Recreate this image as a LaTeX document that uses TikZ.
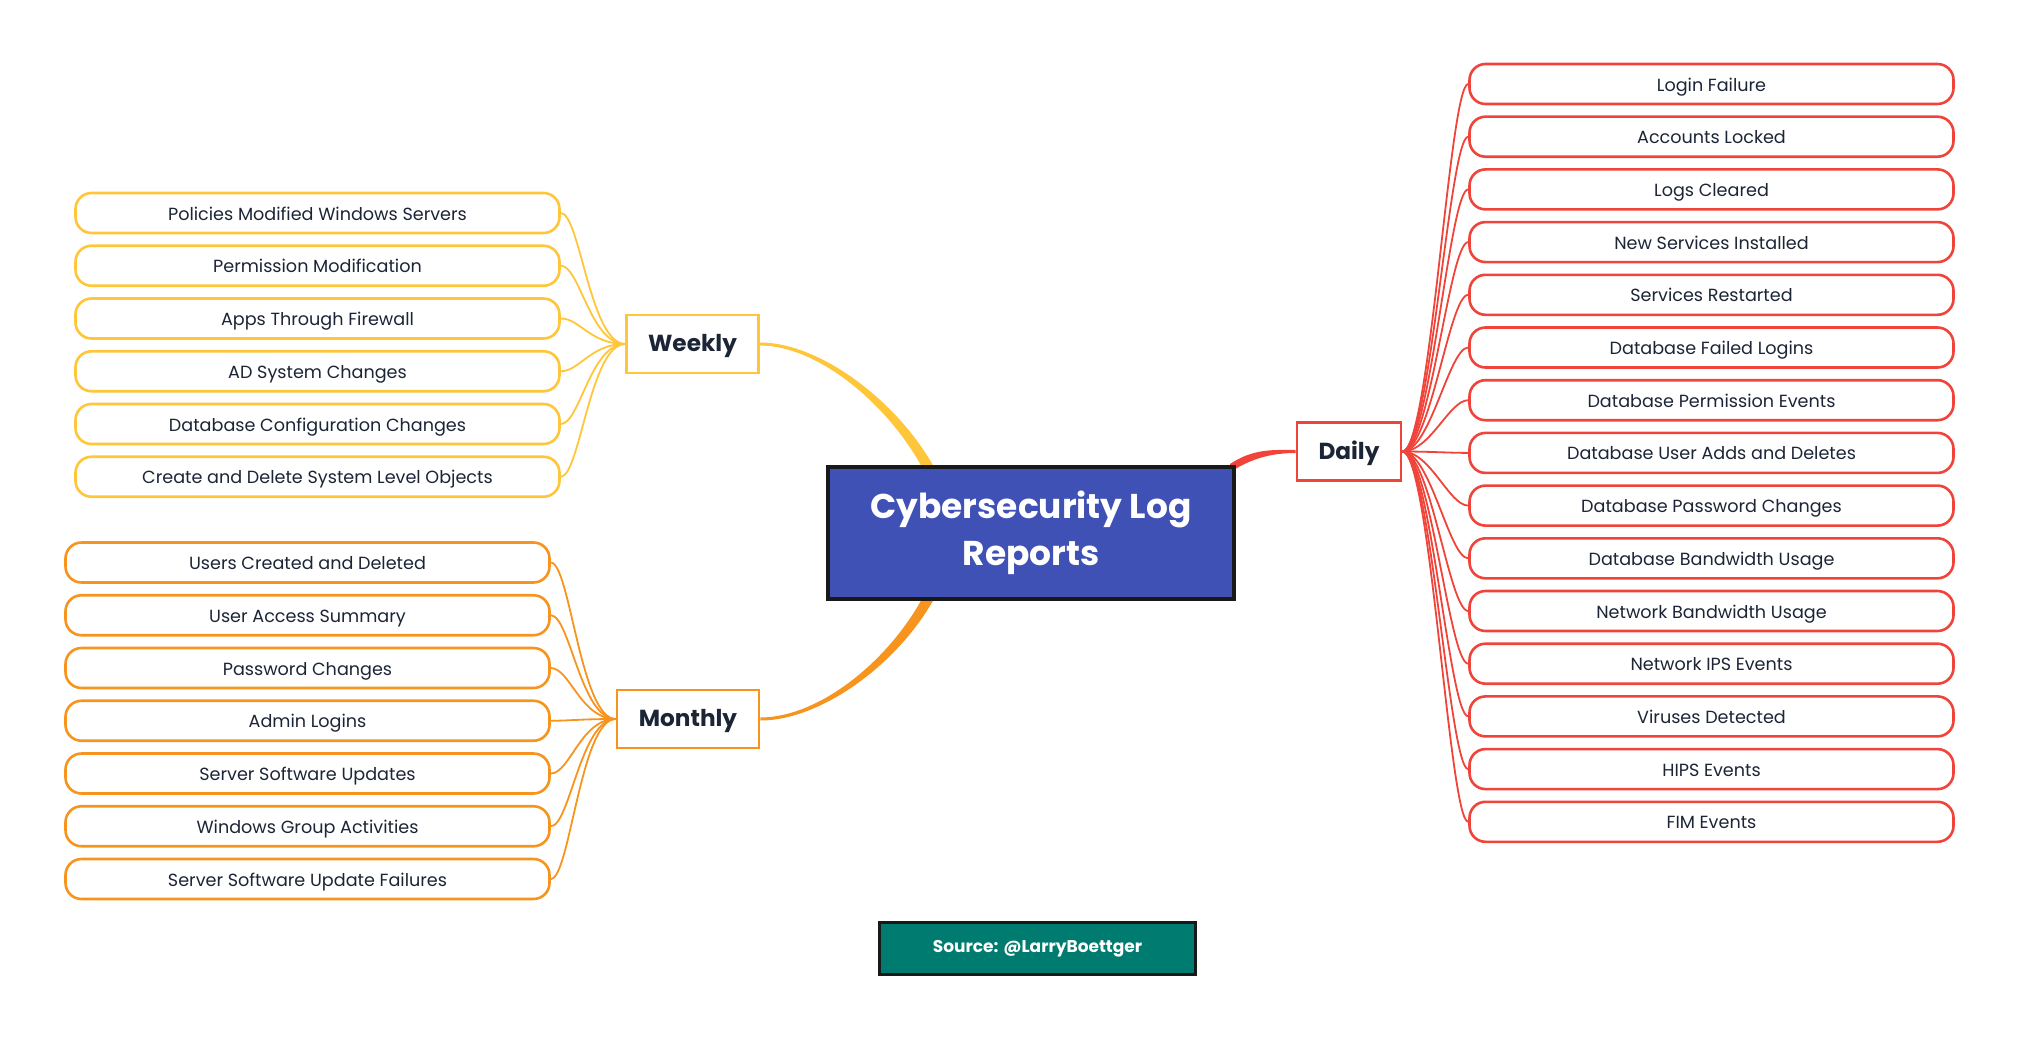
\documentclass[tikz,border=0pt]{standalone}
\usepackage{fontspec}
\setmainfont{Poppins}
\usetikzlibrary{calc,backgrounds}
\definecolor{wk}{HTML}{FFC63A}
\definecolor{mo}{HTML}{F7941E}
\definecolor{dy}{HTML}{F0443A}
\definecolor{txt}{HTML}{1C2536}
\definecolor{central}{HTML}{3F51B5}
\definecolor{src}{HTML}{007B6F}
\begin{document}
\begin{tikzpicture}[x=0.5pt,y=-0.5pt,
  pill/.style={draw, line width=1.3pt, rounded corners=8pt, minimum width=242pt, minimum height=20pt, inner sep=0pt, text height=7.4pt, text depth=0.4pt, font=\fontsize{8.8}{10}\selectfont, text=txt, fill=white},
  branch/.style={draw, line width=1.3pt, minimum height=29pt, inner sep=0pt, text height=9.2pt, text depth=1.6pt, font=\fontsize{11.6}{14}\selectfont\bfseries, text=txt, fill=white},
  conn/.style={line width=0.9pt}]
\useasboundingbox (0,0) rectangle (2017,1038);

% central
\node[draw=black!90, line width=2pt, fill=central, minimum width=203pt, minimum height=66pt, inner sep=0pt, align=center, text=white, font=\fontsize{17.2}{23.5}\selectfont\bfseries] (central) at (1031,533) {Cybersecurity Log\\Reports};

% branches
\node[branch, draw=wk, minimum width=66pt] (weekly) at (692.5,344) {Weekly};
\node[branch, draw=mo, minimum width=71pt] (monthly) at (688,719) {Monthly};
\node[branch, draw=dy, minimum width=52pt] (daily) at (1349,451.5) {Daily};

% source
\node[draw=black!90, line width=1.5pt, fill=src, minimum width=158pt, minimum height=26pt, inner sep=0pt, text height=6.2pt, text depth=1.8pt, text=white, font=\fontsize{8.5}{10}\selectfont\bfseries] (source) at (1037.5,948.5) {Source: @LarryBoettger};

% weekly items
\foreach \t [count=\i from 0] in {Policies Modified Windows Servers, Permission Modification, Apps Through Firewall, AD System Changes, Database Configuration Changes, Create and Delete System Level Objects}
  \node[pill, draw=wk] (w\i) at (317.5,{213+52.75*\i}) {\t};

% monthly items
\foreach \t [count=\i from 0] in {Users Created and Deleted, User Access Summary, Password Changes, Admin Logins, Server Software Updates, Windows Group Activities, Server Software Update Failures}
  \node[pill, draw=mo] (m\i) at (307.5,{562.5+52.75*\i}) {\t};

% daily items
\foreach \t [count=\i from 0] in {Login Failure, Accounts Locked, Logs Cleared, New Services Installed, Services Restarted, Database Failed Logins, Database Permission Events, Database User Adds and Deletes, Database Password Changes, Database Bandwidth Usage, Network Bandwidth Usage, Network IPS Events, Viruses Detected, HIPS Events, FIM Events}
  \node[pill, draw=dy] (d\i) at (1711.5,{84+52.7*\i}) {\t};

\begin{pgfonlayer}{background}
  % main tapered branches
  \fill[wk] ($(weekly.east)+(0,-1.5)$) .. controls +(62,0) and +(-35,-65) .. ($(central.north west)+(109,4)$)
    -- ($(central.north west)+(97,4)$) .. controls +(-35,-65) and +(58,0) .. ($(weekly.east)+(0,1.5)$) -- cycle;
  \fill[mo] ($(monthly.east)+(0,1.5)$) .. controls +(62,0) and +(-35,65) .. ($(central.south west)+(109,-4)$)
    -- ($(central.south west)+(97,-4)$) .. controls +(-35,65) and +(58,0) .. ($(monthly.east)+(0,-1.5)$) -- cycle;
  \fill[dy] ($(central.north east)+(-6,-1)$) .. controls +(24,-16) and +(-21,0) .. ($(daily.west)+(0,-1.5)$)
    -- ($(daily.west)+(0,1.5)$) .. controls +(-21,0) and +(22,-14) .. ($(central.north east)+(-4,6)$) -- cycle;
  % leaf connectors
  \foreach \i in {0,...,5}
    \draw[wk, conn] (w\i.east) .. controls +(19,0) and +(-35,0) .. (weekly.west);
  \foreach \i in {0,...,6}
    \draw[mo, conn] (m\i.east) .. controls +(19,0) and +(-35,0) .. (monthly.west);
  \foreach \i in {0,...,14}
    \draw[dy, conn] (daily.east) .. controls +(28,0) and +(-19,0) .. (d\i.west);
\end{pgfonlayer}
\end{tikzpicture}
\end{document}
